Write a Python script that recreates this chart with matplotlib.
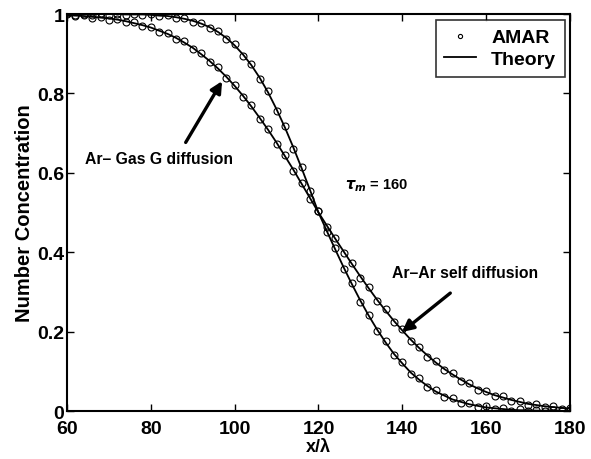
import matplotlib
matplotlib.use('Agg')
import matplotlib.pyplot as plt

# positions along the channel (in mean free paths)
x_vals = list(range(60, 181, 2))

# Ar-Ar self diffusion (broad profile), theory
theory_self = [0.997, 0.996, 0.995, 0.993, 0.991, 0.989, 0.986, 0.982, 0.977, 0.972,
               0.966, 0.958, 0.950, 0.940, 0.928, 0.915, 0.899, 0.882, 0.863, 0.842,
               0.819, 0.794, 0.767, 0.738, 0.708, 0.676, 0.642, 0.608, 0.572, 0.536,
               0.500, 0.467, 0.434, 0.402, 0.370, 0.339, 0.309, 0.280, 0.253, 0.227,
               0.203, 0.180, 0.159, 0.140, 0.122, 0.106, 0.092, 0.079, 0.067, 0.057,
               0.048, 0.040, 0.034, 0.028, 0.023, 0.018, 0.015, 0.012, 0.010, 0.008,
               0.006]

# Ar - gas G diffusion (steep profile), theory
theory_gas = [1.000, 1.000, 1.000, 1.000, 1.000, 1.000, 1.000, 0.999, 0.999, 0.999,
              0.998, 0.996, 0.995, 0.992, 0.988, 0.983, 0.976, 0.967, 0.955, 0.940,
              0.921, 0.898, 0.871, 0.839, 0.802, 0.760, 0.714, 0.664, 0.611, 0.556,
              0.500, 0.453, 0.407, 0.362, 0.319, 0.278, 0.240, 0.205, 0.173, 0.144,
              0.120, 0.097, 0.079, 0.063, 0.049, 0.039, 0.029, 0.023, 0.017, 0.013,
              0.009, 0.007, 0.005, 0.003, 0.002, 0.002, 0.001, 0.001, 0.001, 0.000,
              0.000]

# AMAR simulation points
amar_self = [0.999, 0.994, 0.997, 0.991, 0.993, 0.986, 0.988, 0.979, 0.980, 0.969,
             0.968, 0.955, 0.952, 0.937, 0.931, 0.912, 0.902, 0.879, 0.866, 0.839,
             0.822, 0.791, 0.770, 0.735, 0.711, 0.673, 0.645, 0.605, 0.575, 0.533,
             0.503, 0.464, 0.437, 0.399, 0.373, 0.336, 0.312, 0.277, 0.256, 0.224,
             0.206, 0.177, 0.162, 0.137, 0.125, 0.103, 0.095, 0.076, 0.070, 0.054,
             0.051, 0.037, 0.037, 0.025, 0.026, 0.015, 0.018, 0.009, 0.013, 0.005,
             0.008]

amar_gas = [1.002, 0.998, 1.001, 0.998, 1.002, 0.998, 1.001, 0.997, 1.001, 0.997,
            1.000, 0.994, 0.997, 0.990, 0.990, 0.980, 0.978, 0.964, 0.958, 0.937,
            0.924, 0.895, 0.874, 0.836, 0.805, 0.757, 0.717, 0.661, 0.614, 0.553,
            0.503, 0.450, 0.410, 0.359, 0.322, 0.275, 0.243, 0.202, 0.176, 0.141,
            0.123, 0.094, 0.082, 0.060, 0.052, 0.036, 0.032, 0.020, 0.020, 0.010,
            0.012, 0.004, 0.008, 0.001, 0.005, 0.000, 0.003, 0.000, 0.003, 0.000,
            0.002]

xticks = [60, 80, 100, 120, 140, 160, 180]
yticks = [0, 0.2, 0.4, 0.6, 0.8, 1]
yticklabels = ['0', '0.2', '0.4', '0.6', '0.8', '1']


def main():
    plt.rcParams['font.family'] = ['Liberation Sans', 'DejaVu Sans']
    plt.rcParams['font.weight'] = 'bold'

    fig = plt.figure(figsize=(5.91, 4.6), dpi=100)
    ax = fig.add_axes([0.1134, 0.1043, 0.851, 0.8630])

    ax.plot(x_vals, amar_gas, 'o', mfc='none', mec='k', ms=5, mew=0.8, label='AMAR')
    ax.plot(x_vals, amar_self, 'o', mfc='none', mec='k', ms=5, mew=0.8)
    ax.plot(x_vals, theory_gas, '-', color='k', lw=1.3, label='Theory')
    ax.plot(x_vals, theory_self, '-', color='k', lw=1.3)

    ax.set_xlim(60, 180)
    ax.set_ylim(0, 1)
    ax.set_xticks(xticks)
    ax.set_yticks(yticks)
    ax.set_yticklabels(yticklabels)
    ax.tick_params(direction='in', top=True, right=True, length=5, width=1,
                   labelsize=14)
    ax.tick_params(axis='x', pad=6.5)
    ax.tick_params(axis='y', pad=2)
    for lbl in ax.get_xticklabels() + ax.get_yticklabels():
        lbl.set_fontweight('bold')
    for sp in ax.spines.values():
        sp.set_linewidth(1.5)

    ax.set_xlabel('x/\u03bb', fontsize=13, fontweight='bold', labelpad=0.5)
    ax.set_ylabel('Number Concentration', fontsize=14.5, fontweight='bold', labelpad=2)

    leg = ax.legend(loc='upper right', fontsize=14, frameon=True, fancybox=False,
                    edgecolor='k', handlelength=1.6, handletextpad=0.8,
                    borderpad=0.45, labelspacing=0.2, borderaxespad=0,
                    markerscale=0.6, bbox_to_anchor=(0.99, 0.985))
    leg.get_frame().set_linewidth(1.2)
    for t in leg.get_texts():
        t.set_fontweight('bold')

    ax.annotate('Ar\u2013 Gas G diffusion', xy=(97.0, 0.831), xytext=(64.3, 0.635),
                fontsize=11.3, fontweight='bold', va='center', ha='left',
                arrowprops=dict(arrowstyle='-|>', color='k', lw=2.4,
                                mutation_scale=17, shrinkA=0, shrinkB=0,
                                relpos=(0.68, 1.6)))
    ax.text(126.3, 0.57, r'$\tau_m$ = 160', fontsize=10.5, fontweight='bold',
            va='center', ha='left')
    ax.annotate('Ar\u2013Ar self diffusion', xy=(139.9, 0.199), xytext=(137.5, 0.35),
                fontsize=11.3, fontweight='bold', va='center', ha='left',
                arrowprops=dict(arrowstyle='-|>', color='k', lw=2.4,
                                mutation_scale=17, shrinkA=0, shrinkB=0,
                                relpos=(0.4, -0.9)))

    fig.savefig('out.png', dpi=100)


if __name__ == '__main__':
    main()
